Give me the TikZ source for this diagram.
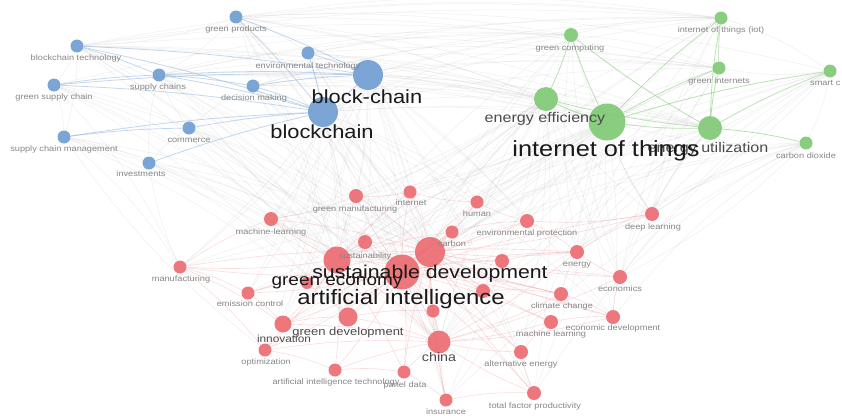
\documentclass[tikz,border=0pt]{standalone}
\usepackage{fontspec}
\setmainfont{Liberation Sans}
\definecolor{nblue}{RGB}{108,156,208}
\definecolor{ngreen}{RGB}{126,200,116}
\definecolor{nred}{RGB}{234,96,102}
\definecolor{eblue}{RGB}{125,168,216}
\definecolor{egreen}{RGB}{120,195,110}
\definecolor{ered}{RGB}{238,130,135}
\definecolor{egray}{RGB}{180,180,180}
\definecolor{labgray}{RGB}{135,135,135}
\definecolor{labdark}{RGB}{75,75,75}
\definecolor{labblack}{RGB}{25,25,25}
\newcommand\fs[1]{\fontsize{#1}{#1}\selectfont}
\newcommand\hs[1]{\scalebox{1.15}[1]{#1}}
\pgfdeclarelayer{edgelayer}
\pgfsetlayers{edgelayer,main}
\tikzset{
  kwb/.style={circle,inner sep=0pt,fill=nblue,fill opacity=.9,minimum size=#1},
  kwg/.style={circle,inner sep=0pt,fill=ngreen,fill opacity=.9,minimum size=#1},
  kwr/.style={circle,inner sep=0pt,fill=nred,fill opacity=.85,minimum size=#1},
  lab/.style={anchor=base,inner sep=0pt,text=labgray,font=\fs{8}},
  labm/.style={anchor=base,inner sep=0pt,text=labdark,font=\fs{#1}},
  labb/.style={anchor=base,inner sep=0pt,text=labblack,font=\fs{#1}},
  bedge/.style={draw=eblue,opacity=.45,line width=.8pt},
  gedge/.style={draw=egreen,opacity=.5,line width=.8pt},
  redge/.style={draw=ered,opacity=.28,line width=.6pt},
  grayedge/.style={draw=egray,opacity=.2,line width=.5pt},
}
\begin{document}
\begin{tikzpicture}[x=1pt,y=-1pt]
\useasboundingbox (0,0) rectangle (842,415);
\clip (0,0) rectangle (842,415);
% ---------- blue cluster ----------
\node[kwb=13] (gp) at (236,17) {};
\node[kwb=13] (bct) at (77,46) {};
\node[kwb=13] (et) at (308,53) {};
\node[kwb=30] (bc) at (368,75) {};
\node[kwb=13] (sc) at (159,75) {};
\node[kwb=13] (dm) at (253,86) {};
\node[kwb=13] (gsc) at (54,85) {};
\node[kwb=30] (blk) at (323,112) {};
\node[kwb=13] (com) at (189,128) {};
\node[kwb=13] (scm) at (64,137) {};
\node[kwb=13] (inv) at (149,163) {};
% ---------- green cluster ----------
\node[kwg=14] (gc) at (571,35) {};
\node[kwg=13] (iotp) at (721,18) {};
\node[kwg=13] (gi) at (719,68) {};
\node[kwg=13] (smc) at (830,71) {};
\node[kwg=24] (ee) at (546,99) {};
\node[kwg=37] (iot) at (607,122) {};
\node[kwg=24] (eu) at (710,128) {};
\node[kwg=13] (cd) at (806,143) {};
% ---------- red cluster ----------
\node[kwr=14] (gm) at (356,196) {};
\node[kwr=13] (int) at (410,192) {};
\node[kwr=13] (hum) at (477,202) {};
\node[kwr=14] (dl) at (652,214) {};
\node[kwr=14] (mlh) at (271,219) {};
\node[kwr=14] (ep) at (527,221) {};
\node[kwr=13] (carb) at (452,232) {};
\node[kwr=14] (sus) at (365,242) {};
\node[kwr=27] (ge) at (337,260) {};
\node[kwr=30] (sd) at (430,252) {};
\node[kwr=35] (ai) at (402,272) {};
\node[kwr=14] (en) at (577,252) {};
\node[kwr=14] (xa) at (502,261) {};
\node[kwr=13] (mf) at (180,267) {};
\node[kwr=14] (eco) at (620,277) {};
\node[kwr=14] (xb) at (483,291) {};
\node[kwr=12] (xc) at (307,283) {};
\node[kwr=14] (cc) at (561,294) {};
\node[kwr=14] (ecd) at (613,317) {};
\node[kwr=14] (ml) at (551,322) {};
\node[kwr=13] (emc) at (248,293) {};
\node[kwr=19] (gd) at (348,317) {};
\node[kwr=17] (inn) at (283,324) {};
\node[kwr=13] (xd) at (433,311) {};
\node[kwr=13] (opt) at (265,350) {};
\node[kwr=23] (china) at (439,342) {};
\node[kwr=13] (ait) at (335,370) {};
\node[kwr=13] (pd) at (404,372) {};
\node[kwr=14] (ae) at (521,352) {};
\node[kwr=14] (tfp) at (534,393) {};
\node[kwr=13] (ins) at (446,400) {};
% ---------- edges ----------
\begin{pgfonlayer}{edgelayer}
\fill[white] (0,0) rectangle (842,415);
\foreach \a in {gp,bct,et,bc,sc,dm,gsc,blk,com,scm,inv}
  \foreach \b in {ai,sd,ge,china,gd}
    \draw[grayedge] (\a) to[bend left=8] (\b);
\foreach \a in {gc,iotp,gi,smc,ee,iot,eu,cd}
  \foreach \b in {ai,sd,ge,china,en,dl,eco}
    \draw[grayedge] (\a) to[bend right=8] (\b);
\foreach \a in {bc,blk,gp,et,dm,sc,bct}
  \foreach \b in {ee,iot,eu,gc,gi,iotp}
    \draw[grayedge] (\a) to[bend left=6] (\b);
\foreach \a in {mf,mlh,gm,int,hum,ep,opt,inn,emc,ins,tfp,ae,ecd}
  \foreach \b in {bc,blk,iot,ee}
    \draw[grayedge] (\a) to[bend right=6] (\b);
\foreach \a/\b in {bct/gsc,bct/scm,gsc/scm,gp/bct,gp/sc,com/sc,inv/sc,scm/inv,gp/et,gp/dm,com/dm,inv/com,gsc/com,sc/et,gc/iotp,gc/gi,smc/cd,smc/gi,iotp/smc,cd/iot,dl/eu,dl/iot,smc/dl,cd/eco,bct/iotp,gsc/gc,gp/smc,scm/mf,gsc/mf,mf/inv,opt/scm,ins/cd,tfp/smc,ecd/cd,gp/iotp}
  \draw[grayedge] (\a) to[bend left=8] (\b);
\foreach \b in {gm,int,hum,dl,mlh,ep,carb,sus,en,xa,mf,eco,xb,xc,cc,ecd,ml,emc,gd,inn,xd,opt,china,ait,pd,ae,tfp,ins}
  \draw[redge] (ai) to[bend left=5] (\b);
\foreach \b in {gm,int,hum,dl,mlh,ep,carb,sus,en,xa,mf,eco,xb,cc,ecd,ml,emc,gd,inn,xd,china,pd,ae,tfp,ins}
  \draw[redge] (sd) to[bend right=5] (\b);
\foreach \b in {gm,int,mlh,sus,mf,xc,emc,gd,inn,opt,ait,pd,china,carb,en,cc}
  \draw[redge] (ge) to[bend left=5] (\b);
\foreach \b in {ins,tfp,ae,pd,ait,ml,ecd,gd,inn,opt,xd,cc,eco,en}
  \draw[redge] (china) to[bend right=5] (\b);
\foreach \a/\b in {mf/emc,mf/inn,mf/opt,mf/mlh,emc/inn,inn/opt,inn/gd,opt/ait,ait/pd,pd/ins,ins/tfp,tfp/ae,ae/ml,ml/ecd,ecd/eco,eco/en,en/dl,dl/ep,ep/hum,hum/int,int/gm,gm/mlh,cc/ecd,cc/en,xa/en,xb/cc,ep/en,carb/ep,gd/xd}
  \draw[redge] (\a) to[bend left=6] (\b);
\foreach \a/\b in {bct/bc,bct/blk,sc/bc,sc/blk,gsc/bc,gsc/blk,scm/blk,scm/com,inv/blk,com/blk,dm/blk,dm/bc,et/bc,gp/bc,gp/blk,bct/sc,gsc/sc,bc/blk,et/blk,sc/dm}
  \draw[bedge] (\a) to[bend left=3] (\b);
\foreach \a/\b in {gc/iot,iotp/iot,iotp/eu,gi/iot,gi/eu,ee/eu,ee/iot,iot/eu,gc/eu,iotp/gi,cd/eu,smc/iot,ee/gc,smc/eu}
  \draw[gedge] (\a) to[bend right=4] (\b);
\end{pgfonlayer}
% ---------- labels ----------
\node[lab] (gp-l) at (236,31) {\hs{green products}};
\node[lab] (bct-l) at (76,60) {\hs{blockchain technology}};
\node[lab] (et-l) at (308,68) {\hs{environmental technology}};
\node[lab] (sc-l) at (158,89) {\hs{supply chains}};
\node[lab] (dm-l) at (254,100) {\hs{decision making}};
\node[lab] (gsc-l) at (54,99) {\hs{green supply chain}};
\node[lab] (com-l) at (189,142) {\hs{commerce}};
\node[lab] (scm-l) at (64,151) {\hs{supply chain management}};
\node[lab] (inv-l) at (141,176) {\hs{investments}};
\node[labb=19] (bc-l) at (367,103) {\hs{block-chain}};
\node[labb=19] (blk-l) at (322,138) {\hs{blockchain}};
\node[lab] (gc-l) at (570,50) {\hs{green computing}};
\node[lab] (iotp-l) at (721,32) {\hs{internet of things (iot)}};
\node[lab] (gi-l) at (719,83) {\hs{green internets}};
\node[lab,anchor=base west] (smc-l) at (810,85) {\hs{smart c}};
\node[lab] (cd-l) at (806,158) {\hs{carbon dioxide}};
\node[labm=14] (ee-l) at (545,122) {\hs{energy efficiency}};
\node[labm=14] (eu-l) at (708,152) {\hs{energy utilization}};
\node[labb=22] (iot-l) at (606,156) {\hs{internet of things}};
\node[lab] (gm-l) at (355,211) {\hs{green manufacturing}};
\node[lab] (int-l) at (411,205) {\hs{internet}};
\node[lab] (hum-l) at (477,216) {\hs{human}};
\node[lab] (dl-l) at (653,229) {\hs{deep learning}};
\node[lab] (mlh-l) at (271,234) {\hs{machine-learning}};
\node[lab] (ep-l) at (527,235) {\hs{environmental protection}};
\node[lab] (carb-l) at (452,246) {\hs{carbon}};
\node[lab] (sus-l) at (365,258) {\hs{sustainability}};
\node[lab] (en-l) at (577,266) {\hs{energy}};
\node[lab] (mf-l) at (181,281) {\hs{manufacturing}};
\node[lab] (eco-l) at (620,291) {\hs{economics}};
\node[lab] (cc-l) at (562,308) {\hs{climate change}};
\node[lab] (ecd-l) at (613,330) {\hs{economic development}};
\node[lab] (ml-l) at (551,336) {\hs{machine learning}};
\node[lab] (emc-l) at (250,306) {\hs{emission control}};
\node[lab] (opt-l) at (266,364) {\hs{optimization}};
\node[lab] (ait-l) at (336,384) {\hs{artificial intelligence technology}};
\node[lab] (pd-l) at (405,387) {\hs{panel data}};
\node[lab] (ae-l) at (521,366) {\hs{alternative energy}};
\node[lab] (tfp-l) at (535,408) {\hs{total factor productivity}};
\node[lab] (ins-l) at (446,414) {\hs{insurance}};
\node[labm=11.3] (gd-l) at (348,335) {\hs{green development}};
\node[labm=10.3] (inn-l) at (284,342) {\hs{innovation}};
\node[labm=12.4] (china-l) at (439,361) {\hs{china}};
\node[labb=16.5] (ge-l) at (337,285) {\hs{green economy}};
\node[labb=18.5] (sd-l) at (430,278) {\hs{sustainable development}};
\node[labb=20.8] (ai-l) at (401,304) {\hs{artificial intelligence}};
\end{tikzpicture}
\end{document}
